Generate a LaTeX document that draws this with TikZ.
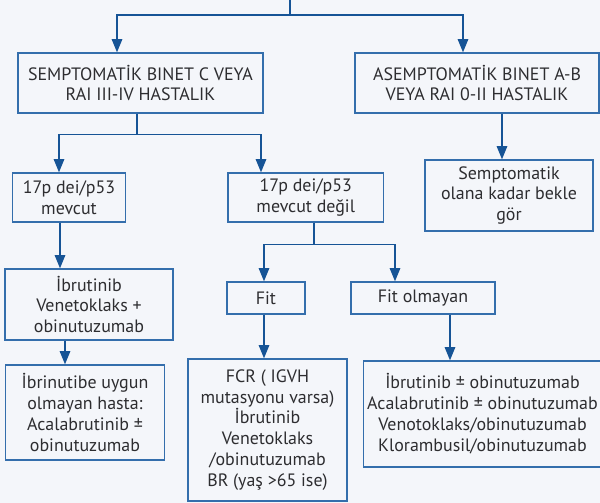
\documentclass[tikz,border=0pt]{standalone}
\usepackage{fontspec}
\setmainfont{PT Sans}
\usepackage{tikz}
\usetikzlibrary{positioning,arrows.meta}
\definecolor{linkblue}{RGB}{22,84,150}
\definecolor{edgeblue}{RGB}{52,110,172}
\definecolor{inkgray}{RGB}{45,45,48}
\definecolor{paper}{RGB}{244,246,250}

\begin{document}
\begin{tikzpicture}[
  x=0.02cm, y=-0.02cm,
  every node/.style={font=\fontsize{10.2}{11.9}\selectfont, text=inkgray},
  box/.style={rectangle, draw=edgeblue, line width=0.8pt, fill=paper,
              align=center, inner sep=2pt},
  flow/.style={-{Triangle[length=7.5pt,width=6pt]}, line width=0.7pt, draw=linkblue},
  link/.style={line width=0.7pt, draw=linkblue}
]
% Page and background
\fill[paper] (0,0) rectangle (600,503);
\useasboundingbox (0,0) rectangle (600,503);
% First level
\node[box, minimum width=4.9cm, minimum height=1.2cm] (semp) at (140.5,83)
  {SEMPTOMATİK BINET C VEYA\\RAI III-IV HASTALIK};
\node[box, minimum width=4.88cm, minimum height=1.2cm] (asemp) at (477,83)
  {ASEMPTOMATİK BINET A-B\\VEYA RAI 0-II HASTALIK};
% Second level
\node[box, minimum width=2.25cm, minimum height=0.98cm] (dely) at (69,197.5)
  {17p dei/p53\\mevcut};
\node[box, minimum width=3.11cm, minimum height=0.98cm] (deln) at (305.75,197.5)
  {17p dei/p53\\mevcut değil};
\node[box, minimum width=3.36cm, minimum height=1.42cm] (wait) at (509,195.5)
  {Semptomatik\\olana kadar bekle\\gör};
% Third level
\node[box, minimum width=3.36cm, minimum height=1.42cm] (ibru) at (89,304.5)
  {İbrutinib\\Venetoklaks +\\obinutuzumab};
\node[box, minimum width=1.56cm, minimum height=0.64cm] (fit) at (266,298) {Fit};
\node[box, minimum width=2.88cm, minimum height=0.64cm] (unfit) at (423,298) {Fit olmayan};
% Fourth level
\node[box, minimum width=3.18cm, minimum height=1.9cm] (acal) at (85,412.5)
  {İbrinutibe uygun\\olmayan hasta:\\Acalabrutinib ±\\obinutuzumab};
\node[box, minimum width=3.18cm, minimum height=2.84cm] (fcr) at (267.5,430)
  {FCR ( IGVH\\mutasyonu varsa)\\İbrutinib\\Venetoklaks\\/obinutuzumab\\BR (yaş >65 ise)};
\node[box, minimum width=4.68cm, minimum height=2.12cm] (rest) at (482.5,414)
  {İbrutinib ± obinutuzumab\\Acalabrutinib ± obinutuzumab\\Venotoklaks/obinutuzumab\\Klorambusil/obinutuzumab};
% Connectors
\coordinate (top) at (290,0);
\draw[flow] (top) -- ++(0,15) -| ([xshift=-0.47cm]semp.north);
\draw[flow] (top) -- ++(0,15) -| ([xshift=-0.28cm]asemp.north);
\draw[flow] ([xshift=-0.07cm]semp.south) -- ++(0,21) -| ([xshift=-0.2cm]dely.north);
\draw[flow] ([xshift=-0.07cm]semp.south) -- ++(0,21) -| ([xshift=-0.895cm]deln.north);
\draw[flow] ([xshift=0.5cm]asemp.south) -- ([xshift=0.5cm]asemp.south |- wait.north);
\draw[flow] ([xshift=-0.18cm]dely.south) -- ([xshift=-0.18cm]dely.south |- ibru.north);
\draw[flow] ([xshift=-0.48cm]ibru.south) -- ([xshift=-0.48cm]ibru.south |- acal.north);
\draw[flow] ([xshift=0.165cm]deln.south) -- ++(0,22) -| ([xshift=-0.04cm]fit.north);
\draw[flow] ([xshift=0.165cm]deln.south) -- ++(0,22) -| ([xshift=-0.56cm]unfit.north);
\draw[flow] ([xshift=-0.04cm]fit.south) -- ([xshift=-0.04cm]fit.south |- fcr.north);
\draw[flow] ([xshift=0.54cm]unfit.south) -- ([xshift=0.54cm]unfit.south |- rest.north);
\end{tikzpicture}
\end{document}
